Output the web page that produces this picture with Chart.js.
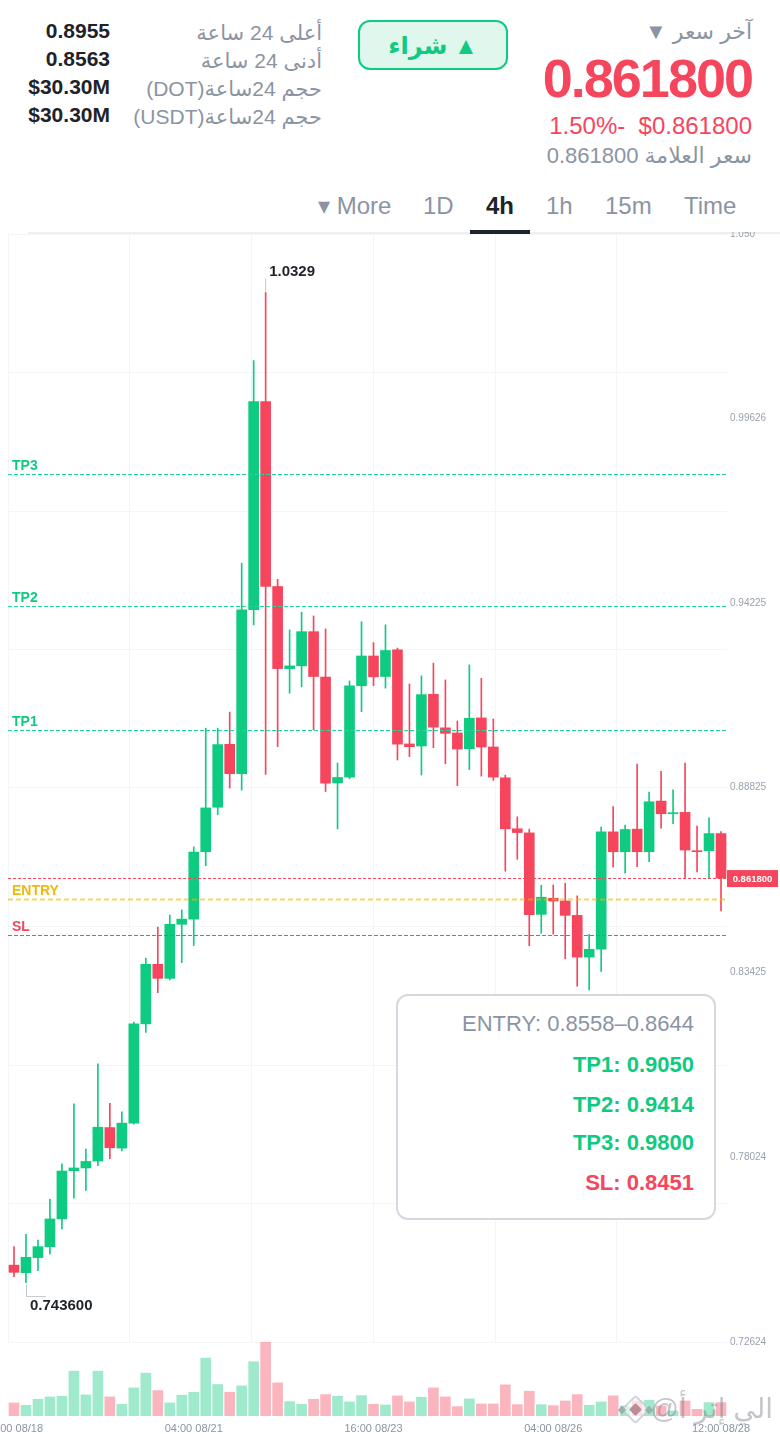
<!DOCTYPE html>
<html lang="ar">
<head>
<meta charset="utf-8">
<title>DOT 4h</title>
<script src="https://cdn.jsdelivr.net/npm/chart.js@4/dist/chart.umd.min.js"></script>
<style>
  html, body { margin: 0; padding: 0; background: #fff; }
  body { position: relative; width: 780px; height: 1434px; overflow: hidden; font-family: "Liberation Sans", "DejaVu Sans", sans-serif; }
  .t { position: absolute; white-space: pre; line-height: 1; }
  .r { text-align: right; }
  .gray { color: #8b94a3; }
  .dark { color: #1e2329; font-weight: bold; }
  .red { color: #f6465d; }
  canvas { position: absolute; left: 0; }
  #buy { position: absolute; left: 358px; top: 20px; width: 146px; height: 46px; border: 2px solid #0ecb81; border-radius: 12px; background: #dff7ec; color: #0ecb81; font-weight: bold; font-size: 24px; line-height: 47px; text-align: center; }
  #tabLine { position: absolute; left: 28px; top: 232px; width: 752px; height: 2px; background: #eeeff1; }
  #tabOn { position: absolute; left: 470px; top: 230px; width: 60px; height: 4px; background: #1e2329; }
  #levels { position: absolute; left: 396px; top: 994px; width: 316px; height: 222px; border: 2px solid #d5d8de; border-radius: 12px; background: #fff; }
  #levels div { position: absolute; right: 20px; font-size: 22px; line-height: 1; white-space: pre; }
  #mark { position: absolute; left: 655px; top: 1392px; width: 118px; text-align: right; font-size: 28px; line-height: 1.2; color: rgba(120,126,138,.45); white-space: pre; }
  .logo { position: absolute; transform: rotate(45deg); box-sizing: border-box; }
</style>
</head>
<body>
<div class="t r gray" style="right:28px;top:21px;font-size:22px" dir="rtl">آخر سعر ▼</div>
<div class="t r red" style="right:28px;top:51px;font-size:54px;font-weight:bold;letter-spacing:-2px">0.861800</div>
<div class="t r red" style="right:28px;top:114px;font-size:24px">1.50%-  $0.861800</div>
<div class="t r gray" style="right:28px;top:145px;font-size:22px" dir="rtl">سعر العلامة 0.861800</div>
<div id="buy" dir="rtl">▲ شراء</div>

<div class="t gray" style="right:458px;top:22px;font-size:21px" dir="rtl">أعلى 24 ساعة</div>
<div class="t gray" style="right:458px;top:50px;font-size:21px" dir="rtl">أدنى 24 ساعة</div>
<div class="t gray" style="right:458px;top:78px;font-size:21px" dir="rtl">حجم 24ساعة(DOT)</div>
<div class="t gray" style="right:458px;top:106px;font-size:21px" dir="rtl">حجم 24ساعة(USDT)</div>
<div class="t r dark" style="right:670px;top:20px;font-size:21px">0.8955</div>
<div class="t r dark" style="right:670px;top:48px;font-size:21px">0.8563</div>
<div class="t r dark" style="right:670px;top:76px;font-size:21px">$30.30M</div>
<div class="t r dark" style="right:670px;top:104px;font-size:21px">$30.30M</div>

<div class="t gray" style="left:318px;top:194px;font-size:24px">▾ More</div>
<div class="t gray" style="left:423px;top:194px;font-size:24px">1D</div>
<div class="t dark" style="left:486px;top:194px;font-size:24px">4h</div>
<div class="t gray" style="left:546px;top:194px;font-size:24px">1h</div>
<div class="t gray" style="left:605px;top:194px;font-size:24px">15m</div>
<div class="t gray" style="left:684px;top:194px;font-size:24px">Time</div>
<div id="tabLine"></div><div id="tabOn"></div>

<canvas id="chartMain" width="780" height="1118" style="top:232px"></canvas>
<canvas id="chartVolume" width="780" height="92" style="top:1342px"></canvas>

<div id="levels">
  <div class="gray" style="top:17px">ENTRY: 0.8558–0.8644</div>
  <div style="top:58px;color:#0ecb81;font-weight:bold">TP1: 0.9050</div>
  <div style="top:98px;color:#0ecb81;font-weight:bold">TP2: 0.9414</div>
  <div style="top:136px;color:#0ecb81;font-weight:bold">TP3: 0.9800</div>
  <div style="top:176px;color:#f6465d;font-weight:bold">SL: 0.8451</div>
</div>

<div class="logo" style="left:625px;top:1399px;width:21px;height:21px;background:rgba(255,255,255,.55);border:2px solid rgba(190,195,203,.7);border-radius:3px"></div>
<div class="logo" style="left:631px;top:1405px;width:9px;height:9px;background:rgba(170,120,130,.8);border-radius:1px"></div>
<div class="logo" style="left:619px;top:1407px;width:6px;height:6px;background:rgba(150,165,160,.8)"></div>
<div class="logo" style="left:646px;top:1407px;width:6px;height:6px;background:rgba(150,165,160,.8)"></div>
<div id="mark" dir="rtl">الي إتر أ@</div>

<script>
const times = ["16:00 08/18", "04:00 08/21", "16:00 08/23", "04:00 08/26", "12:00 08/28"];
const timeIndexes = [0, 15, 30, 45, 59];

const opens = [0.7487, 0.7465, 0.7509, 0.7541, 0.7622, 0.7763, 0.7771, 0.7791, 0.7889, 0.7829,
  0.7902, 0.8192, 0.8366, 0.8325, 0.8483, 0.8498, 0.8695, 0.8825, 0.9009, 0.8923,
  0.9402, 1.0010, 0.9470, 0.9230, 0.9238, 0.9338, 0.9205, 0.8896, 0.8913, 0.9180,
  0.9267, 0.9207, 0.9285, 0.9010, 0.9004, 0.9155, 0.9057, 0.9042, 0.8996, 0.9086,
  0.9001, 0.8911, 0.8762, 0.8750, 0.8512, 0.8559, 0.8551, 0.8509, 0.8387, 0.8410,
  0.8753, 0.8695, 0.8761, 0.8695, 0.8843, 0.8806, 0.8810, 0.8698, 0.8698, 0.8748];
const highs = [0.7541, 0.7577, 0.7560, 0.7679, 0.7783, 0.7958, 0.7826, 0.8075, 0.7960, 0.7935,
  0.8197, 0.8384, 0.8475, 0.8510, 0.8525, 0.8709, 0.9056, 0.9056, 0.9103, 0.9538,
  1.0130, 1.0329, 0.9491, 0.9343, 0.9395, 0.9384, 0.9346, 0.8954, 0.9194, 0.9367,
  0.9306, 0.9358, 0.9290, 0.9185, 0.9209, 0.9246, 0.9197, 0.9077, 0.9241, 0.9202,
  0.9083, 0.8919, 0.8797, 0.8761, 0.8597, 0.8598, 0.8603, 0.8566, 0.8454, 0.8767,
  0.8827, 0.8773, 0.8951, 0.8869, 0.8930, 0.8876, 0.8954, 0.8770, 0.8794, 0.8754];
const lows = [0.7453, 0.7436, 0.7471, 0.7520, 0.7593, 0.7683, 0.7705, 0.7778, 0.7798, 0.7821,
  0.7899, 0.8167, 0.8283, 0.8320, 0.8371, 0.8421, 0.8654, 0.8803, 0.8881, 0.8875,
  0.9358, 0.8921, 0.9002, 0.9158, 0.9177, 0.9051, 0.8871, 0.8762, 0.8908, 0.9104,
  0.9180, 0.9173, 0.8963, 0.8973, 0.8919, 0.8999, 0.8952, 0.8888, 0.8935, 0.8916,
  0.8903, 0.8638, 0.8673, 0.8420, 0.8457, 0.8454, 0.8382, 0.8302, 0.8291, 0.8345,
  0.8650, 0.8632, 0.8651, 0.8666, 0.8764, 0.8777, 0.8618, 0.8636, 0.8618, 0.8522];
const closes = [0.7466, 0.7510, 0.7541, 0.7622, 0.7762, 0.7771, 0.7790, 0.7890, 0.7830, 0.7902,
  0.8192, 0.8366, 0.8325, 0.8483, 0.8498, 0.8694, 0.8823, 0.9008, 0.8923, 0.9402,
  1.0010, 0.9470, 0.9230, 0.9238, 0.9338, 0.9207, 0.8895, 0.8912, 0.9180, 0.9267,
  0.9206, 0.9283, 0.9009, 0.9002, 0.9154, 0.9059, 0.9041, 0.8995, 0.9085, 0.9001,
  0.8913, 0.8762, 0.8751, 0.8511, 0.8562, 0.8551, 0.8509, 0.8387, 0.8410, 0.8753,
  0.8695, 0.8760, 0.8695, 0.8841, 0.8806, 0.8809, 0.8700, 0.8695, 0.8748, 0.8618];
const volumes = [39, 32, 50, 57, 59, 134, 63, 134, 57, 35,
  84, 128, 76, 39, 62, 71, 173, 94, 71, 90,
  162, 221, 99, 43, 35, 50, 64, 59, 42, 61,
  35, 33, 60, 42, 56, 84, 57, 28, 51, 36,
  36, 93, 34, 74, 34, 31, 45, 64, 32, 42,
  60, 30, 45, 47, 30, 15, 45, 20, 40, 40];

const priceTicks = [0.72624, 0.78024, 0.83425, 0.88825, 0.94225, 0.99626, 1.05];
const priceTickLabels = ["0.72624", "0.78024", "0.83425", "0.88825", "0.94225", "0.99626", "1.050"];
const gridRows = [0.72624, 0.76671, 0.80718, 0.84765, 0.88825, 0.92859, 0.96906, 1.00953, 1.05];
const gridColumns = [-0.5, 9.68, 19.86, 30, 40.14, 50.3];

const levelNames = ["TP3", "TP2", "TP1", "ENTRY", "SL"];
const levelValues = [0.98, 0.9414, 0.905, 0.8558, 0.8451];
const lastPrice = 0.8618;
const highIndex = 21, lowIndex = 1;

const GREEN = "#0ecb81", RED = "#f6465d", YELLOW = "#f0b90b";
const labels = opens.map((v, i) => i);
const isUp = (i) => closes[i] >= opens[i];
const candleColors = opens.map((v, i) => (isUp(i) ? GREEN : RED));
const volumeColors = opens.map((v, i) => (isUp(i) ? "rgba(14,203,129,.4)" : "rgba(246,70,93,.4)"));

// lines, tags and the high/low notes on top of the candles
const overlay = {
  id: "overlay",
  afterDatasetsDraw(chart) {
    const c = chart.ctx, y = chart.scales.y, x = chart.scales.x, area = chart.chartArea;
    const line = (v, color, w, dash) => {
      const py = Math.round(y.getPixelForValue(v)) + 0.5;
      c.save();
      c.strokeStyle = color; c.lineWidth = w; c.setLineDash(dash);
      c.beginPath();
      c.moveTo(area.left, py);
      c.lineTo(area.right, py);
      c.stroke();
      c.restore();
    };
    line(lastPrice, RED, 1, [3, 2]);
    levelNames.forEach((name, i) => {
      let color = GREEN;
      if (name === "ENTRY") color = YELLOW;
      if (name === "SL") color = RED;
      if (name === "ENTRY") line(levelValues[i], "rgba(240,185,11,.6)", 2, [5, 3]);
      else if (name === "SL") line(levelValues[i], RED, 1, [4, 2]);
      else line(levelValues[i], "#22d69a", 1, [4, 2]);
      c.fillStyle = color;
      c.font = 'bold 14px "Liberation Sans"';
      c.textAlign = "left";
      c.textBaseline = "alphabetic";
      c.fillText(name, 12, y.getPixelForValue(levelValues[i]) - 4);
    });

    // price tag on the axis
    const py = y.getPixelForValue(lastPrice);
    c.fillStyle = RED;
    c.fillRect(area.right, py - 8, 51, 17);
    c.fillStyle = "#fff";
    c.font = 'bold 9.5px "Liberation Sans"';
    c.textAlign = "center";
    c.textBaseline = "middle";
    c.fillText(lastPrice.toFixed(6), area.right + 25.5, py + 1);

    // high note
    const hx = x.getPixelForValue(highIndex), hy = y.getPixelForValue(highs[highIndex]);
    c.strokeStyle = "#c4c8cf";
    c.lineWidth = 1;
    c.beginPath();
    c.moveTo(hx, hy - 14);
    c.lineTo(hx, hy - 1);
    c.stroke();
    c.fillStyle = "#1e2329";
    c.font = 'bold 15px "Liberation Sans"';
    c.textAlign = "left";
    c.textBaseline = "alphabetic";
    c.fillText(highs[highIndex].toFixed(4), hx + 3.5, hy - 17);

    // low note
    const lx = x.getPixelForValue(lowIndex), ly = y.getPixelForValue(lows[lowIndex]);
    c.beginPath();
    c.moveTo(Math.round(lx) + 0.5, ly + 2);
    c.lineTo(Math.round(lx) + 0.5, ly + 14);
    c.lineTo(lx + 20, ly + 14);
    c.stroke();
    c.fillStyle = "#1e2329";
    c.fillText(lows[lowIndex].toFixed(6), lx + 4, ly + 27);
  },
};

new Chart(document.getElementById("chartMain"), {
  type: "bar",
  data: {
    labels: labels,
    datasets: [
      {
        label: "wick",
        data: lows.map((v, i) => [v, highs[i]]),
        backgroundColor: candleColors,
        barThickness: 1,
        grouped: false,
        order: 2,
      },
      {
        label: "body",
        data: opens.map((v, i) => [Math.min(v, closes[i]), Math.max(v, closes[i])]),
        backgroundColor: candleColors,
        barThickness: 10,
        grouped: false,
        order: 1,
      },
    ],
  },
  options: {
    responsive: false,
    animation: false,
    layout: { padding: { left: 8, top: 2, bottom: 8, right: 0 } },
    plugins: { legend: { display: false }, tooltip: { enabled: false } },
    scales: {
      x: { type: "category", display: false },
      xGrid: {
        type: "linear",
        position: "bottom",
        offset: false,
        min: -0.5,
        max: 59.5,
        afterBuildTicks(scale) {
          scale.ticks = gridColumns.map((v) => ({ value: v }));
        },
        ticks: { display: false, autoSkip: false },
        grid: { offset: false, color: "#f4f5f7", drawTicks: false },
        border: { display: false },
      },
      y: {
        type: "linear",
        position: "right",
        min: 0.72624,
        max: 1.05,
        afterFit(scale) {
          scale.width = 53;
          scale.paddingTop = 0;
          scale.paddingBottom = 0;
        },
        afterBuildTicks(scale) {
          const all = gridRows.concat(priceTicks.filter((v) => !gridRows.includes(v)));
          scale.ticks = all.sort((a, b) => a - b).map((v) => ({ value: v }));
        },
        ticks: {
          autoSkip: false,
          padding: 3,
          color: "#9aa1ad",
          font: { family: "Liberation Sans", size: 10 },
          callback(value) {
            const k = priceTicks.indexOf(value);
            return k < 0 ? "" : priceTickLabels[k];
          },
        },
        grid: {
          drawTicks: false,
          color(ctx) {
            return ctx.tick && gridRows.includes(ctx.tick.value) ? "#f4f5f7" : "rgba(0,0,0,0)";
          },
        },
        border: { display: false },
      },
    },
  },
  plugins: [overlay],
});

new Chart(document.getElementById("chartVolume"), {
  type: "bar",
  data: {
    labels: labels,
    datasets: [
      {
        label: "volume",
        data: volumes,
        backgroundColor: volumeColors,
        barThickness: 10,
      },
    ],
  },
  options: {
    responsive: false,
    animation: false,
    layout: { padding: { left: 8, right: 53, top: 0, bottom: 0 } },
    plugins: { legend: { display: false }, tooltip: { enabled: false } },
    scales: {
      x: {
        type: "category",
        afterFit(scale) {
          scale.height = 18;
          scale.paddingLeft = 0;
          scale.paddingRight = 0;
        },
        ticks: {
          autoSkip: false,
          maxRotation: 0,
          minRotation: 0,
          padding: 6,
          color: "#8b94a3",
          font: { family: "Liberation Sans", size: 11 },
          callback(value, index) {
            const k = timeIndexes.indexOf(index);
            return k < 0 ? "" : times[k];
          },
        },
        grid: { display: false, drawTicks: false },
        border: { display: false },
      },
      y: { display: false, min: 0, max: 221 },
    },
  },
});
</script>
</body>
</html>
